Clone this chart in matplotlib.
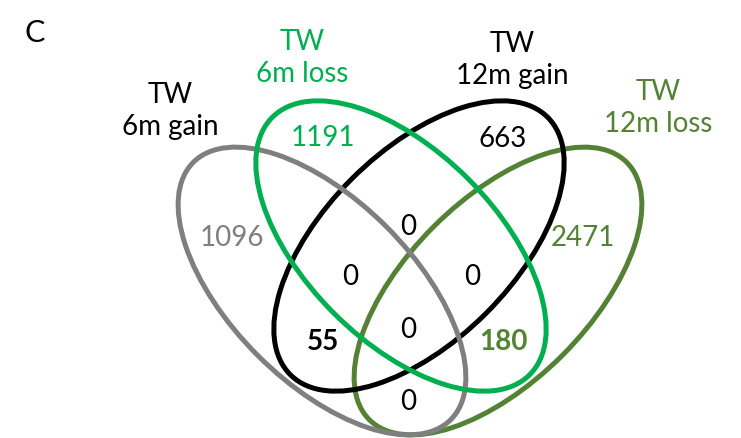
import matplotlib
matplotlib.use("Agg")
import matplotlib.pyplot as plt
from matplotlib.patches import Ellipse

plt.rcParams['font.family'] = ['Lato', 'DejaVu Sans']

# sets and counts
set_names = ['TW\n6m gain', 'TW\n6m loss', 'TW\n12m gain', 'TW\n12m loss']
set_colors = ['#7f7f7f', '#00b050', '#000000', '#548235']

# region counts: only-A, only-B, only-C, only-D, B&C, A&B&C? ... in drawing order
region_counts = [1096, 1191, 663, 2471, 0, 0, 0, 55, 0, 180, 0]
region_colors = ['#7f7f7f', '#00b050', '#000000', '#548235',
                 '#000000', '#000000', '#000000', '#000000', '#000000', '#548235', '#000000']
region_bold = [False, False, False, False, False, False, False, True, False, True, False]

# layout (pixel units, y down)
ell_centers = [(322, 291), (401, 246), (419, 246), (498, 291)]
ell_axes = [(182, 91), (182, 95), (182, 95), (182, 91)]
ell_angles = [45, 45, -45, -45]
set_label_pos = [(170, 111), (302, 58), (512, 60), (658, 108)]
region_pos = [(232, 238), (323, 138), (503, 139), (583, 238),
              (408, 227), (350, 277), (472, 277), (323, 342),
              (408, 330), (503, 342), (408, 402)]
draw_order = [3, 2, 0, 1]

fig = plt.figure(figsize=(7.41, 4.38), dpi=100)
ax = fig.add_axes([0, 0, 1, 1])
ax.set_xlim(0, 741)
ax.set_ylim(438, 0)
ax.axis('off')

for i in draw_order:
    a, b = ell_axes[i]
    ax.add_patch(Ellipse(ell_centers[i], 2 * a, 2 * b, angle=ell_angles[i],
                         fill=False, edgecolor=set_colors[i], linewidth=3.6))

label_colors = ['#000000', '#00b050', '#000000', '#548235']
for name, (x, y), c in zip(set_names, set_label_pos, label_colors):
    ax.text(x, y, name, color=c, fontsize=20, ha='center', va='center',
            linespacing=1.25)

for n, (x, y), c, bold in zip(region_counts, region_pos, region_colors, region_bold):
    ax.text(x, y, str(n), color=c, fontsize=20, ha='center', va='center',
            fontweight='bold' if bold else 'normal')

ax.text(35, 33, 'C', fontsize=22, ha='center', va='center')

fig.savefig('out.png', dpi=100)
